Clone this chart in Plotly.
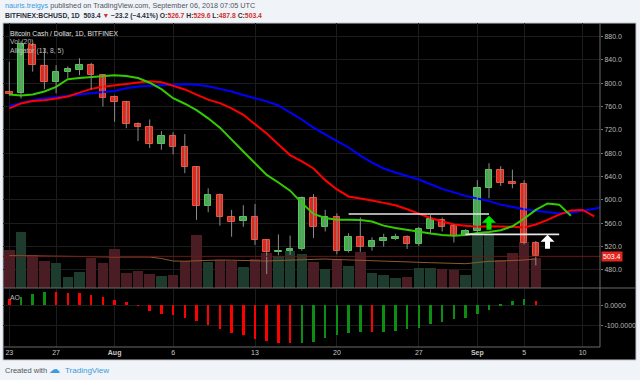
import plotly.graph_objects as go
import pandas as pd

# ---------------- data ----------------
dates = pd.date_range("2018-07-23", periods=46, freq="D")
opens = [785, 783, 866, 830, 803, 820, 822, 831, 814, 776, 768, 731, 725, 696, 710, 691, 657, 589, 608, 570,
         564, 571, 531, 510, 512, 516, 604, 554, 570, 513, 537, 519, 530, 533, 536, 525, 550, 566, 555, 540,
         546, 620, 652, 630, 627, 526.7]
highs = [837, 872, 869, 860, 831, 829, 843, 835, 816, 779, 770, 733, 738, 718, 716, 713, 658, 620, 611, 583,
         591, 593, 532, 541, 539, 606, 610, 583, 577, 543, 570, 536, 542, 542, 539, 554, 574, 570, 558, 550,
         634, 663, 658, 652, 634, 529.6]
lows = [779, 774, 820, 790, 783, 809, 814, 789, 760, 734, 723, 701, 689, 686, 678, 646, 566, 579, 556, 537,
        554, 523, 473, 505, 506, 513, 535, 546, 507, 510, 511, 513, 520, 531, 516, 521, 543, 546, 527, 538,
        543, 603, 624, 620, 524, 487.8]
closes = [781, 867, 832, 803, 820, 824, 831, 814, 775, 768, 731, 725, 696, 710, 691, 657, 589, 608, 570, 563,
          571, 531, 510, 513, 516, 604, 554, 570, 513, 537, 519, 529, 534, 537, 525, 550, 567, 554, 538, 546,
          620, 651, 629, 627, 526.6, 503.4]
volume_k = [37.6, 56, 33.3, 26.6, 24.6, 10.6, 16, 30, 24.6, 39.3, 15, 17.3, 14, 12.3, 12.6, 26.6, 53.3, 26, 28, 27.3,
            20.6, 29.3, 35, 32.3, 36.6, 34.3, 26.3, 19, 29, 21.6, 36.3, 15, 13.3, 10, 11, 20, 20, 19, 18.3, 13.3,
            53.3, 53.3, 28.3, 35, 46, 30]
vol_ma20 = [32.5, 32.3, 32, 31.8, 31.5, 31.2, 31, 30.8, 30.8, 31, 31, 31, 31, 29.5, 27, 26.8, 27.2, 27.8, 28, 27.8,
            27.5, 27, 27, 27.5, 28, 28.3, 28.6, 29, 28.5, 28, 27.6, 27.3, 27, 26.5, 26, 25.7, 25.3, 25, 24.6, 24.3,
            25.5, 26.7, 27, 27.3, 28, 29]
jaw = [761, 766.5, 771, 774, 776.5, 779, 781, 783, 785, 787, 791.5, 794.5, 796, 797, 797.5, 798.5, 797.5, 795, 790.5, 786,
       780, 775, 769, 762, 750, 738, 724, 712, 701, 690, 676, 664, 654, 647, 641, 635, 627, 619, 613, 607,
       602.5, 598, 592, 588, 584, 581.5, 579, 577, 578, 581, 585, 589]
teeth = [757, 765.5, 769.5, 771, 774, 777.5, 784, 790.5, 794, 797, 799, 801.5, 803.5, 802, 796, 789.5, 780.5, 772, 766, 757,
         746, 730, 714, 695, 677, 666, 654, 634, 618, 606, 603, 599, 595, 591, 584, 576.5, 569, 563, 558, 556,
         554, 555, 555, 554, 553, 558, 566, 575, 582, 583, 572]
lips = [781, 779, 781, 786, 794, 807, 809, 810.5, 812, 814, 812.5, 809, 801, 790, 774.5, 765, 754, 740, 724, 703,
        683, 663, 643, 630, 616, 595, 576, 569, 566, 566, 565.5, 563, 556, 552, 548.5, 545, 542.5, 540, 538.5, 540,
        543.5, 545, 548, 555, 568, 583, 594, 592, 573]
ao = [28, 38, 54, 64, 63, 60, 59, 51, 41, 26, 13, -3, -28, -44, -51, -62, -80, -98, -118, -136,
      -148, -164, -175, -184, -185, -184, -179, -161, -145, -135, -130, -132, -130, -125, -117, -110, -95, -82, -70, -61,
      -44, -23, 2, 18, 31, 21]
price_ticks = [480, 520, 560, 600, 640, 680, 720, 760, 800, 840, 880]
date_tickvals = ["2018-07-23", "2018-07-27", "2018-08-01", "2018-08-06", "2018-08-13", "2018-08-20",
                 "2018-08-27", "2018-09-01", "2018-09-05", "2018-09-10"]
date_ticktext = ["23", "27", "<b>Aug</b>", "6", "13", "20", "27", "<b>Sep</b>", "5", "10"]
ao_tickvals = [0, -100]
ao_ticktext = ["0.0000", "-100.0000"]
last_price = 503.4
# user drawings: (start, end, price)
hlines = [("2018-08-21", "2018-09-02", 576), ("2018-08-31", "2018-09-08", 541)]
arrows = [("2018-09-02", 561, "#00e600"), ("2018-09-07", 528.5, "#ffffff")]

# ---------------- styling ----------------
W, H = 640, 380
LM, RM, TM, BM = 3, 40, 23, 33
PW, PH = W - LM - RM, H - TM - BM


def px(x):
    return (x - LM) / PW


def py(y):
    return (H - BM - y) / PH


GRID = "#1c1c1c"
UP_FILL, UP_LINE = "#3dae49", "#56c85d"
DN_FILL, DN_LINE = "#db2a21", "#ef5238"
FONT = "Liberation Sans, Arial, sans-serif"

up = [c >= o for o, c in zip(opens, closes)]
day_ms = 86400000

fig = go.Figure()

# volume (base pane axis y)
fig.add_trace(go.Bar(x=dates, y=volume_k, width=0.9 * day_ms,
                     marker=dict(color=["#1e3c2d" if u else "#4a1d24" for u in up], line=dict(width=0)),
                     xaxis="x", yaxis="y", hoverinfo="skip"))
fig.add_trace(go.Scatter(x=pd.date_range("2018-07-23", periods=len(vol_ma20), freq="D"), y=vol_ma20,
                         mode="lines", line=dict(color="#8a5a30", width=1), xaxis="x", yaxis="y", hoverinfo="skip"))

# alligator
for arr, col in [(jaw, "#0000ff"), (teeth, "#ff0000"), (lips, "#33cc00")]:
    fig.add_trace(go.Scatter(x=pd.date_range("2018-07-23", periods=len(arr), freq="D"), y=arr, mode="lines",
                             line=dict(color=col, width=2), xaxis="x", yaxis="y3", hoverinfo="skip",
                             cliponaxis=True))

# wicks
wx, wy = [], []
for d, h, l in zip(dates, highs, lows):
    wx += [d, d, None]
    wy += [l, h, None]
fig.add_trace(go.Scatter(x=wx, y=wy, mode="lines", line=dict(color="#8c8c8c", width=1),
                         xaxis="x", yaxis="y3", hoverinfo="skip"))
# bodies
fig.add_trace(go.Bar(x=dates, y=[abs(c - o) for o, c in zip(opens, closes)],
                     base=[min(o, c) for o, c in zip(opens, closes)], width=0.56 * day_ms,
                     marker=dict(color=[UP_FILL if u else DN_FILL for u in up],
                                 line=dict(color=[UP_LINE if u else DN_LINE for u in up], width=1)),
                     xaxis="x", yaxis="y3", hoverinfo="skip"))

# AO histogram
ao_cols = ["#ff0000"] + ["#0b8f12" if ao[i] > ao[i - 1] else "#ff0000" for i in range(1, len(ao))]
fig.add_trace(go.Bar(x=dates, y=ao, width=0.21 * day_ms, marker=dict(color=ao_cols, line=dict(width=0)),
                     xaxis="x", yaxis="y2", hoverinfo="skip"))

shapes = []
# black chart panel
shapes.append(dict(type="rect", xref="paper", yref="paper", x0=px(3), x1=px(636), y0=py(360), y1=py(23),
                   fillcolor="#000000", line=dict(color="#c3c7cc", width=1), layer="below"))
# last price line
shapes.append(dict(type="line", xref="paper", yref="y3", x0=0, x1=1, y0=last_price, y1=last_price,
                   line=dict(color="#6e1616", width=1)))
# pane separators
shapes.append(dict(type="line", xref="paper", yref="paper", x0=px(3), x1=px(636), y0=py(288), y1=py(288),
                   line=dict(color="#6a6a6a", width=1)))
shapes.append(dict(type="line", xref="paper", yref="paper", x0=px(3), x1=px(600), y0=py(347), y1=py(347),
                   line=dict(color="#6a6a6a", width=1)))
shapes.append(dict(type="line", xref="paper", yref="paper", x0=px(600), x1=px(600), y0=py(347), y1=py(23),
                   line=dict(color="#6a6a6a", width=1)))
# user horizontal lines
for s, e, p in hlines:
    shapes.append(dict(type="line", xref="x", yref="y3", x0=s, x1=e, y0=p, y1=p,
                       line=dict(color="#e6e6e6", width=1.6)))
# arrows
for d, p, col in arrows:
    shapes.append(dict(type="path", xref="x", yref="y3", xsizemode="pixel", ysizemode="pixel",
                       xanchor=d, yanchor=p,
                       path="M 0 7 L 7 0 L 2.5 0 L 2.5 -7 L -2.5 -7 L -2.5 0 L -7 0 Z",
                       fillcolor=col, line=dict(width=0)))

ann = []


def txt(x, y, text, size=7, color="#ddd", xanchor="left"):
    ann.append(dict(xref="paper", yref="paper", x=px(x), y=py(y), text=text, showarrow=False,
                    xanchor=xanchor, yanchor="middle", font=dict(size=size, color=color, family=FONT)))


txt(3, 6, "<span style='color:#3a9be0'>nauris.treigys</span> published on TradingView.com, September 06, 2018 07:05 UTC",
    size=7.25, color="#505560")
txt(3, 16, "<b>BITFINEX:BCHUSD, 1D  503.4 <span style='color:#d0312d'>▼</span> −23.2 (−4.41%) "
           "O:<span style='color:#d0312d'>526.7</span> H:<span style='color:#d0312d'>529.6</span> "
           "L:<span style='color:#d0312d'>487.8</span> C:<span style='color:#d0312d'>503.4</span></b>",
    size=6.8, color="#2a2e39")
txt(8, 33, "Bitcoin Cash / Dollar, 1D, BITFINEX", size=6.8, color="#e0e0e0")
txt(8, 42, "Vol (20)", size=6.8, color="#bdbdbd")
txt(8, 51, "Alligator (13, 8, 5)", size=6.8, color="#bdbdbd")
txt(8, 297, "AO", size=6.8, color="#bdbdbd")
txt(3, 370, "Created with", size=7.5, color="#505560")
txt(47, 369, "☁", size=11, color="#3a9be0")
txt(63, 370, "TradingView", size=8, color="#3a9be0")

ann.append(dict(xref="paper", yref="y3", x=1, y=last_price, text="503.4", showarrow=False, xanchor="left",
                yanchor="middle", bgcolor="#e3261f", borderpad=1, xshift=1,
                font=dict(size=7, color="#ffffff", family=FONT)))

fig.update_layout(
    width=W, height=H, margin=dict(l=LM, r=RM, t=TM, b=BM),
    paper_bgcolor="#f0f3f7", plot_bgcolor="#000000",
    showlegend=False, barmode="overlay", bargap=0,
    font=dict(family=FONT),
    xaxis=dict(domain=[0, 1], anchor="y2", type="date", range=["2018-07-22 11:05", "2018-09-11 11:41"],
               tickvals=date_tickvals, ticktext=date_ticktext, showgrid=True, gridcolor=GRID, gridwidth=1,
               zeroline=False, showline=False, ticks="", tickfont=dict(size=7, color="#c8c8c8")),
    yaxis=dict(domain=[py(288), 1], anchor="x", range=[0, 265], visible=False, showgrid=False),
    yaxis3=dict(overlaying="y", anchor="x", side="right", range=[449.1, 903.4], tickvals=price_ticks,
                tickformat=".1f", showgrid=True, gridcolor=GRID, zeroline=False, ticks="outside",
                ticklen=2, tickcolor="#777", tickfont=dict(size=7, color="#b8b8b8")),
    yaxis2=dict(domain=[0, py(289)], anchor="x", side="right", range=[-205.4, 78.8], tickvals=ao_tickvals,
                ticktext=ao_ticktext, showgrid=True, gridcolor=GRID, zeroline=False, ticks="outside",
                ticklen=2, tickcolor="#777", tickfont=dict(size=7, color="#b8b8b8")),
    shapes=shapes, annotations=ann,
)

fig.write_html("out.html", config={"displayModeBar": False},
               post_script="document.body.style.margin='0';document.body.style.overflow='hidden';"
                           "document.body.style.background='#f0f3f7';")
